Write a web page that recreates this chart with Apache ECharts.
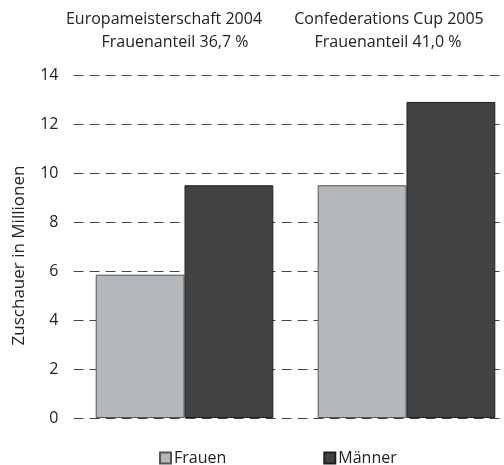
<!DOCTYPE html>
<html>
<head>
<meta charset="utf-8">
<script src="https://cdn.jsdelivr.net/npm/echarts@6/dist/echarts.min.js"></script>
<style>
  html, body { margin: 0; padding: 0; background: #fff; }
  #chart { width: 504px; height: 465px; }
</style>
</head>
<body>
<div id="chart"></div>
<script>
// data
const categories = ['Europameisterschaft 2004', 'Confederations Cup 2005']
const shares = ['Frauenanteil 36,7 %', 'Frauenanteil 41,0 %']
const frauen = [5.85, 9.5]
const maenner = [9.5, 12.9]
const yTicks = { min: 0, max: 14, interval: 2 }

const font = '"Open Sans", sans-serif'
const textColor = '#222'

const chart = echarts.init(document.getElementById('chart'), null, { renderer: 'canvas' })

// group headings, two lines each, not quite on the same centre in the original
const headX = [[164, 175], [389, 388]]
const headStyle = { fontFamily: font, fontSize: 16, fontWeight: 'normal', color: textColor }
const titles = []
categories.forEach((c, i) => {
  titles.push({ text: c, left: headX[i][0], top: 11, textAlign: 'center', padding: 0, textStyle: headStyle })
  titles.push({ text: shares[i], left: headX[i][1], top: 34, textAlign: 'center', padding: 0, textStyle: headStyle })
})

chart.setOption({
  animation: false,
  title: titles,
  // the right group runs past the canvas edge in the original
  grid: { left: 73.5, width: 444, top: 75, bottom: 47, outerBoundsMode: 'none' },
  legend: {
    left: 159,
    top: 450,
    padding: 0,
    icon: 'rect',
    itemWidth: 11,
    itemHeight: 11,
    itemGap: 97,
    textStyle: { fontFamily: font, fontSize: 16, color: textColor, padding: [0, 0, 0, -2] },
    data: ['Frauen', 'Männer']
  },
  xAxis: {
    type: 'category',
    data: categories,
    axisLine: { show: false },
    axisTick: { show: false },
    axisLabel: { show: false }
  },
  yAxis: {
    type: 'value',
    min: yTicks.min,
    max: yTicks.max,
    interval: yTicks.interval,
    name: 'Zuschauer in Millionen',
    nameLocation: 'middle',
    nameGap: 46,
    nameTextStyle: { fontFamily: font, fontSize: 17, color: textColor, padding: [0, 18, 0, 0] },
    axisLine: { show: false },
    axisTick: { show: false },
    axisLabel: { fontFamily: font, fontSize: 16, color: textColor, margin: 15 },
    splitLine: { lineStyle: { type: [10, 6], color: '#444', width: 1 } }
  },
  series: [
    {
      name: 'Frauen',
      type: 'bar',
      data: frauen,
      barGap: '0%',
      barCategoryGap: '20%',
      itemStyle: { color: '#b5b8ba', borderColor: '#555', borderWidth: 1 }
    },
    {
      name: 'Männer',
      type: 'bar',
      data: maenner,
      itemStyle: { color: '#414244', borderColor: '#1e1e1e', borderWidth: 1 }
    }
  ]
})
</script>
</body>
</html>
